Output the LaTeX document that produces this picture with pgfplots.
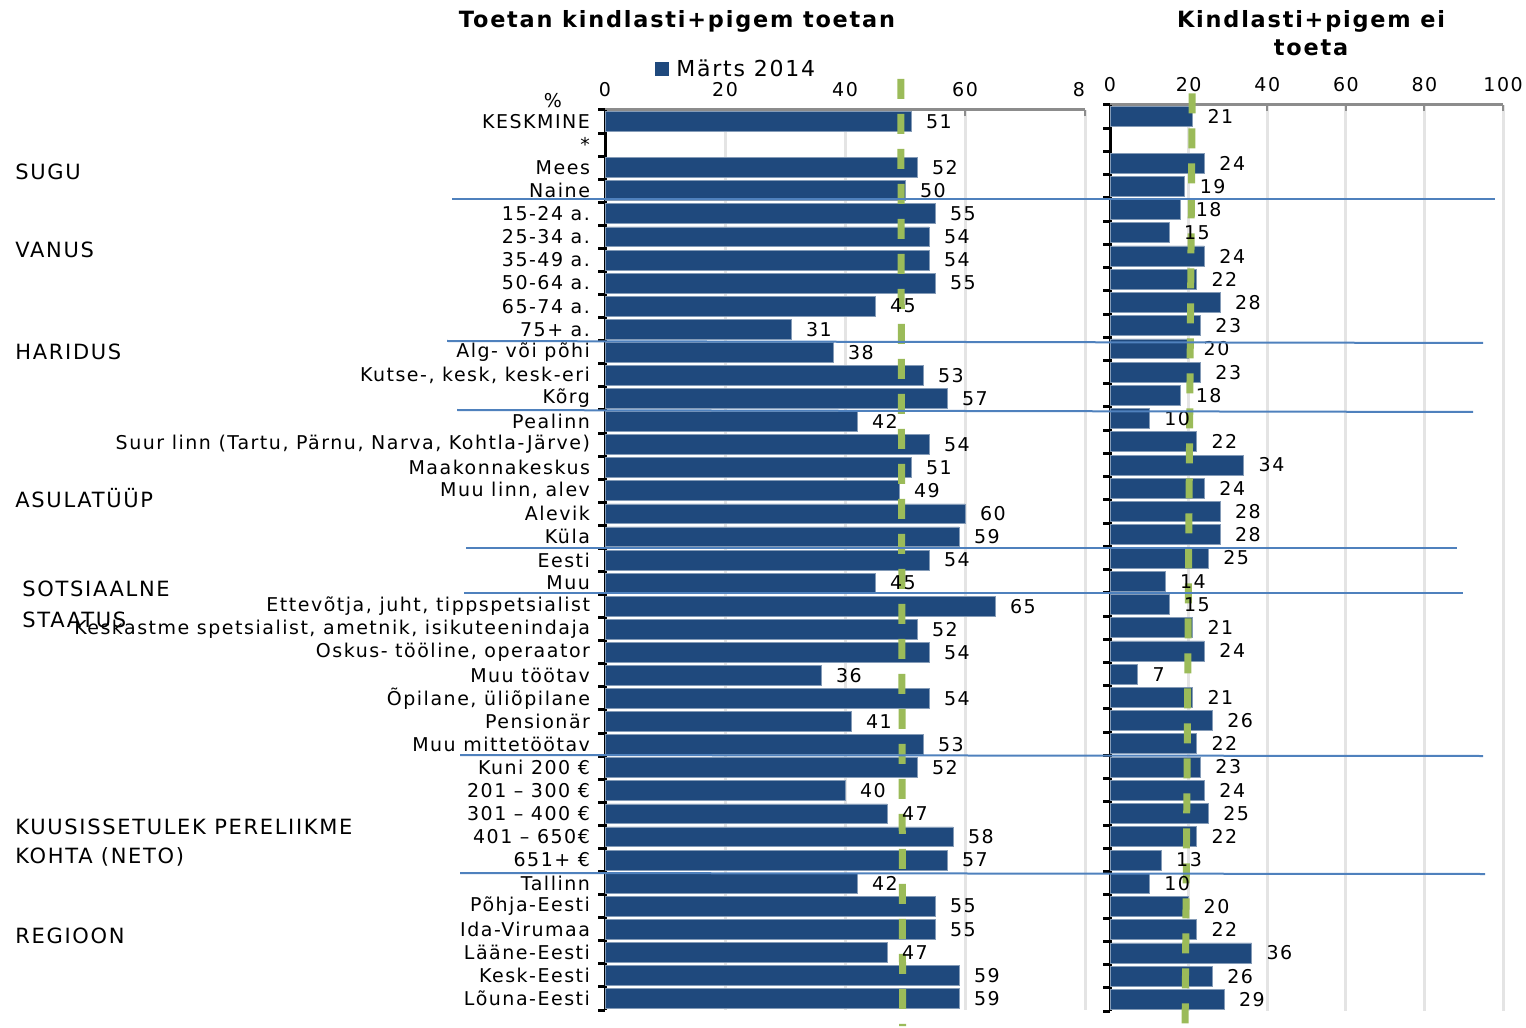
\documentclass[border=0pt]{standalone}
\usepackage{fontspec}
\setmainfont{DejaVu Sans}[LetterSpace=8]
\usepackage{pgfplots}
\usepackage{pgfplotstable}
\pgfplotsset{compat=1.18}
\definecolor{barblue}{HTML}{1F497D}
\definecolor{avggreen}{HTML}{9BBB59}
\definecolor{sepblue}{HTML}{4F81BD}
\definecolor{gridgrey}{HTML}{E4E4E4}
\definecolor{axisgrey}{HTML}{8C8C8C}
\newcommand\lab{\fontsize{9.5bp}{11.5bp}\selectfont}
\newcommand\grp{\fontsize{10.5bp}{12.5bp}\selectfont}
\newcommand\ttl{\fontsize{11.2bp}{14bp}\selectfont\bfseries}

\pgfplotstableread{
r yes no
0 51 21
2 52 24
3 50 19
4 55 18
5 54 15
6 54 24
7 55 22
8 45 28
9 31 23
10 38 20
11 53 23
12 57 18
13 42 10
14 54 22
15 51 34
16 49 24
17 60 28
18 59 28
19 54 25
20 45 14
21 65 15
22 52 21
23 54 24
24 36 7
25 54 21
26 41 26
27 53 22
28 52 23
29 40 24
30 47 25
31 58 22
32 57 13
33 42 10
34 55 20
35 55 22
36 47 36
37 59 26
38 59 29
}\data

\pgfplotsset{
  mybars/.style={
    scale only axis, clip=false,
    xbar, bar width=0.86, bar shift=0pt,
    ymin=-0.5, ymax=38.5,
    axis x line=top, axis y line=left,
    x axis line style={-, draw=axisgrey, line width=1.5bp},
    y axis line style={-, draw=black, line width=1.5bp},
    tick align=inside,
    xtick style={draw=axisgrey, line width=1bp},
    major tick length=3bp,
    xmajorgrids, major grid style={draw=gridgrey, line width=1.5bp},
    ytick={0,...,38},
    ytick style={draw=none},
    extra y ticks={-0.5,0.5,...,38.5},
    extra y tick labels={},
    extra y tick style={tick align=outside, major tick length=3.5bp, ytick style={draw=black, line width=1.5bp}},
    /pgf/number format/assume math mode=true,
    tick label style={font=\lab},
    x tick label style={yshift=3bp},
    /pgf/number format/precision=0,
  },
  barplot/.style={fill=barblue, draw=barblue!55!white, line width=0.4bp,
    nodes near coords,
    nodes near coords style={font=\lab, anchor=west, xshift=4bp, text=black}},
  avgline/.style={avggreen, line width=3.5bp, dash pattern=on 10bp off 7.5bp, sharp plot, forget plot},
}

\begin{document}
\begin{tikzpicture}[x=0.5bp,y=0.5bp]
\path[use as bounding box] (0,0) rectangle (1526,1027);

% left panel
\begin{axis}[mybars,
  at={(302.5bp,8.5bp)}, anchor=south west,
  width=240bp, height=450bp,
  xmin=0, xmax=80, xtick={0,20,40,60,80}, xticklabels={0,20,40,60,8\phantom{0}},
  yticklabels={Lõuna-Eesti,Kesk-Eesti,Lääne-Eesti,Ida-Virumaa,Põhja-Eesti,Tallinn,
    651+ €,401 – 650€,301 – 400 €,201 – 300 €,Kuni 200 €,
    Muu mittetöötav,Pensionär,{Õpilane, üliõpilane},Muu töötav,{Oskus- tööline, operaator},
    {Keskastme spetsialist, ametnik, isikuteenindaja},{Ettevõtja, juht, tippspetsialist},
    Muu,Eesti,Küla,Alevik,{Muu linn, alev},Maakonnakeskus,
    {Suur linn (Tartu, Pärnu, Narva, Kohtla-Järve)},Pealinn,
    Kõrg,{Kutse-, kesk, kesk-eri},Alg- või põhi,
    75+ a.,65-74 a.,50-64 a.,35-49 a.,25-34 a.,15-24 a.,
    Naine,Mees,*,KESKMINE},
  yticklabel style={anchor=east, xshift=-4bp},
]
\addplot[barplot] table[x=yes, y expr=38-\thisrow{r}] {\data};
\addplot[avgline] coordinates {(49.3,39.85) (49.6,-1.2)};
\end{axis}

% right panel
\begin{axis}[mybars,
  at={(555bp,8bp)}, anchor=south west,
  width=196.5bp, height=453bp,
  xmin=0, xmax=100, xtick={0,20,40,60,80,100},
  yticklabels={},
]
\addplot[barplot] table[x=no, y expr=38-\thisrow{r}] {\data};
\addplot[avgline] coordinates {(20.9,39.0) (19.1,-1.2)};
\end{axis}

% separator lines
\begin{scope}[sepblue, line width=1bp]
\draw (452,828) -- (1495,828);
\draw (447,686) -- (1483,684);
\draw (457,617) -- (1473,615);
\draw (466,479) -- (1457,479);
\draw (464,434) -- (1463,434);
\draw (460,272) -- (1483,271);
\draw (460,154) -- (1485,153);
\end{scope}

% titles
\node[font=\ttl] at (677,1006) {Toetan kindlasti+pigem toetan};
\node[font=\ttl, align=center] at (1311,994) {Kindlasti+pigem ei\\toeta};
\fill[barblue] (655,965) rectangle (669,951);
\node[font=\fontsize{11bp}{13bp}\selectfont, anchor=west, inner sep=0pt] at (676,959) {Märts 2014};
\node[font=\lab] at (553,926) {\%};

% group labels
\begin{scope}[font=\grp]
\node[anchor=west, inner sep=0pt] at (15,855) {SUGU};
\node[anchor=west, inner sep=0pt] at (15,777) {VANUS};
\node[anchor=west, inner sep=0pt] at (15,675) {HARIDUS};
\node[anchor=west, inner sep=0pt] at (15,529) {ASULATÜÜP};
\node[anchor=west, inner sep=0pt] at (22,438) {SOTSIAALNE};
\node[anchor=west, inner sep=0pt] at (22,407) {STAATUS};
\node[anchor=west, inner sep=0pt] at (15,200) {KUUSISSETULEK PERELIIKME};
\node[anchor=west, inner sep=0pt] at (15,170) {KOHTA (NETO)};
\node[anchor=west, inner sep=0pt] at (15,91) {REGIOON};
\end{scope}
\end{tikzpicture}
\end{document}
